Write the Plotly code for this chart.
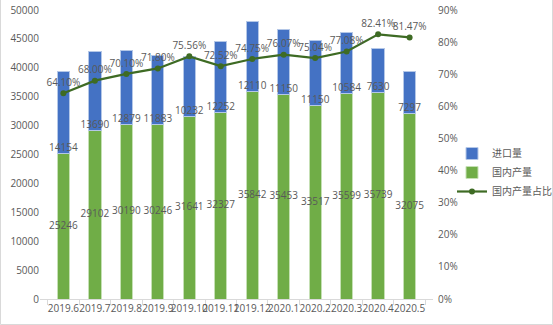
import plotly.graph_objects as go

categories = ["2019.6", "2019.7", "2019.8", "2019.9", "2019.10", "2019.11",
              "2019.12", "2020.1", "2020.2", "2020.3", "2020.4", "2020.5"]
domestic = [25246, 29102, 30190, 30246, 31641, 32327, 35842, 35453, 33517, 35599, 35739, 32075]
imports = [14154, 13690, 12879, 11883, 10232, 12252, 12110, 11150, 11150, 10584, 7630, 7297]
ratio = [64.10, 68.00, 70.10, 71.80, 75.56, 72.52, 74.75, 76.07, 75.04, 77.08, 82.41, 81.47]

left_ticks = list(range(0, 50001, 5000))
right_ticks = list(range(0, 91, 10))

BLUE = "#4472C4"
GREEN = "#70AD47"
LINE = "#3E6B24"
TXT = "#595959"
FONT = "Open Sans, Noto Sans CJK SC"
FS = 10

fig = go.Figure()
fig.add_trace(go.Bar(x=categories, y=domestic, name="国内产量",
                     marker=dict(color=GREEN, line=dict(color="#C5E0B4", width=1)),
                     legendrank=2))
fig.add_trace(go.Bar(x=categories, y=imports, name="进口量",
                     marker=dict(color=BLUE, line=dict(color="#B4C7E7", width=1)),
                     legendrank=1))
# domestic labels, centered in green segment
fig.add_trace(go.Scatter(x=categories, y=[d / 2 for d in domestic], mode="text",
                         text=[str(d) for d in domestic], textposition="middle center",
                         textfont=dict(color=TXT, size=FS, family=FONT),
                         showlegend=False, hoverinfo="skip"))
# import labels, at the base of the blue segment
fig.add_trace(go.Scatter(x=categories, y=domestic, mode="text",
                         text=[str(v) for v in imports], textposition="top center",
                         textfont=dict(color=TXT, size=FS, family=FONT),
                         showlegend=False, hoverinfo="skip"))
fig.add_trace(go.Scatter(x=categories, y=ratio, name="国内产量占比", yaxis="y2",
                         mode="lines+markers+text",
                         text=[f"{r:.2f}%" for r in ratio], textposition="top center",
                         textfont=dict(color=TXT, size=FS, family=FONT),
                         line=dict(color=LINE, width=2.2),
                         marker=dict(color=LINE, size=6), legendrank=3))

border = dict(type="rect", xref="paper", yref="paper",
              x0=-39.5 / 393, x1=(552.5 - 40) / 393,
              y0=-25.5 / 289, y1=(314.5) / 289,
              line=dict(color="#D9D9D9", width=1), layer="below")

fig.update_layout(
    width=553, height=325,
    margin=dict(l=40, r=120, t=10, b=26, autoexpand=False),
    barmode="stack", bargap=0.61,
    plot_bgcolor="white", paper_bgcolor="white",
    font=dict(family=FONT, color=TXT, size=FS),
    showlegend=True,
    legend=dict(x=(452 - 40) / 393, y=(299 - 139) / 289, xanchor="left", yanchor="top",
                font=dict(size=FS, color=TXT, family=FONT), traceorder="normal",
                itemwidth=30, tracegroupgap=0, bgcolor="rgba(0,0,0,0)"),
    xaxis=dict(type="category", showline=True, linecolor="#D9D9D9", linewidth=1,
               ticks="outside", tickson="boundaries", ticklen=5, tickcolor="#D9D9D9",
               tickangle=0, tickfont=dict(size=FS, color=TXT), showgrid=False),
    yaxis=dict(range=[0, 50000], tickvals=left_ticks, ticktext=[str(t) for t in left_ticks],
               showgrid=False, zeroline=False,
               tickfont=dict(size=FS, color=TXT), ticks="", showline=False),
    yaxis2=dict(range=[0, 90], tickvals=right_ticks, ticktext=[f"{t}%" for t in right_ticks],
                overlaying="y", side="right", showgrid=False, zeroline=False,
                tickfont=dict(size=FS, color=TXT), ticklabelstandoff=4),
    shapes=[border],
)

fig.write_html("out.html")
